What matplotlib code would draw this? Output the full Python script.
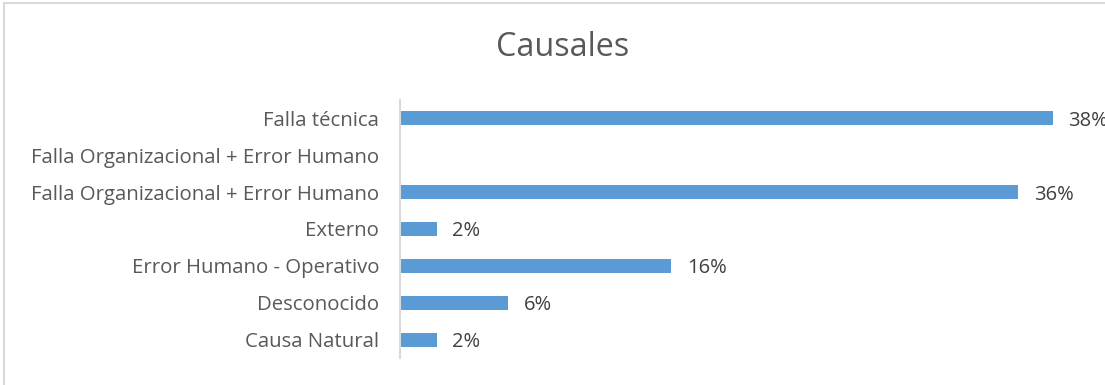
import matplotlib.pyplot as plt
from matplotlib.lines import Line2D

# datos (de abajo hacia arriba)
categorias = ['Causa Natural', 'Desconocido', 'Error Humano - Operativo', 'Externo',
              'Falla Organizacional + Error Humano', 'Falla Organizacional + Error Humano',
              'Falla técnica']
valores = [2.15, 6.3, 15.8, 2.15, 36.0, None, 38.0]
etiquetas = ['2%', '6%', '16%', '2%', '36%', '', '38%']

plt.rcParams['font.family'] = ['Open Sans', 'DejaVu Sans']
gris = '#595959'
azul = '#5B9BD5'

fig = plt.figure(figsize=(11.05, 3.85), dpi=100)
fig.patch.set_facecolor('white')
ax = fig.add_axes([400 / 1105, 27 / 385, 687 / 1105, 258 / 385])

pos = list(range(len(categorias)))
for i, v in enumerate(valores):
    if v is None:
        continue
    ax.barh(i, v, height=0.38, color=azul)
    ax.text(v + 0.9, i, etiquetas[i], va='center_baseline', ha='left',
            fontsize=14.5, color='#404040', clip_on=False)

ax.set_xlim(0, 40)
ax.set_ylim(-0.5, len(categorias) - 0.5)
ax.set_yticks(pos)
ax.set_yticklabels(categorias, fontsize=14.7, color=gris, va='center_baseline')
ax.tick_params(axis='y', length=0, pad=15)
ax.set_xticks([])
for s in ['top', 'right', 'bottom']:
    ax.spines[s].set_visible(False)
ax.spines['left'].set_color('#D9D9D9')
ax.spines['left'].set_linewidth(1.5)

fig.text(563 / 1105, 1 - 48 / 385, 'Causales', ha='center', va='center',
         fontsize=23.3, color=gris)

# marco recortado del gráfico (solo izquierda y arriba)
fig.add_artist(Line2D([4 / 1105, 4 / 1105], [0, 1 - 3 / 385], transform=fig.transFigure,
                      color='#D9D9D9', lw=1.5))
fig.add_artist(Line2D([4 / 1105, 1], [1 - 3 / 385, 1 - 3 / 385], transform=fig.transFigure,
                      color='#D9D9D9', lw=1.5))

fig.savefig('out.png', dpi=100)
